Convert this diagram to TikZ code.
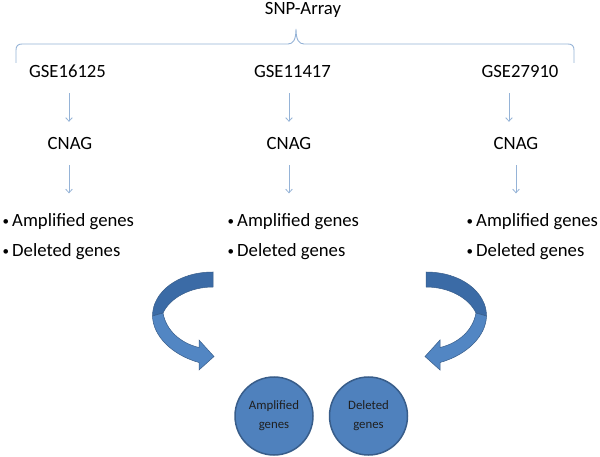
\documentclass[tikz,border=0pt]{standalone}
\usepackage{fontspec}
\setmainfont{Carlito}
\usetikzlibrary{arrows.meta}
\definecolor{lineblue}{HTML}{95B3D7}
\definecolor{fillblue}{HTML}{4F81BD}
\definecolor{lightblue}{HTML}{5286C3}
\definecolor{darkblue}{HTML}{3B6BA6}
\definecolor{edgeblue}{HTML}{385D8A}
\newcommand\myblt{\makebox[10pt][l]{\hspace{0.5pt}\raisebox{1.8pt}{\fontsize{13}{13}\selectfont\textbullet}}}
\begin{document}
\begin{tikzpicture}[x=1pt,y=-1pt,
  lbl/.style={font=\fontsize{18.7}{22}\selectfont, inner sep=0pt, anchor=base, text height=12.5pt, text depth=0pt},
  lst/.style={font=\fontsize{18.7}{22}\selectfont, inner sep=0pt, anchor=base west},
  thinarrow/.style={draw=lineblue, line width=0.8pt, -{Straight Barb[length=3.5pt,width=6.5pt]}},
  bracestyle/.style={draw=lineblue, line width=0.9pt},
  blob/.style={circle, minimum size=78pt, inner sep=0pt, fill=fillblue, draw=edgeblue, line width=1.5pt, font=\fontsize{12.8}{19}\selectfont, align=center, text=black!88},
  topband/.style={fill=darkblue, draw=edgeblue, line width=0.5pt},
  lowband/.style={fill=lightblue, draw=edgeblue, line width=0.5pt}]
\useasboundingbox[fill=white] (0,0) rectangle (600,457);

% title and brace
\node[lbl] (snp) at (303,14.5) {SNP-Array};
\draw[bracestyle] (16,63) -- (16,50) .. controls (16,46) and (18,44) .. (22,44) -- (288,44)
  .. controls (293,44) and (296,40) .. (296,29) .. controls (296,40) and (299,44) .. (304,44)
  -- (568,44) .. controls (572,44) and (574,46) .. (574,50) -- (574,63);

% datasets
\node[lbl] (g1) at (67.5,77.5) {GSE16125};
\node[lbl] (g2) at (292.5,77.5) {GSE11417};
\node[lbl] (g3) at (520,77.5) {GSE27910};

\node[lbl] (c1) at (70,150) {CNAG};
\node[lbl] (c2) at (289,150) {CNAG};
\node[lbl] (c3) at (516,150) {CNAG};

\node[lst] (l1a) at (2,227) {\myblt Amplified genes};
\node[lst] (l1b) at (2,257) {\myblt Deleted genes};
\node[lst] (l2a) at (227,227) {\myblt Amplified genes};
\node[lst] (l2b) at (227,257) {\myblt Deleted genes};
\node[lst] (l3a) at (466,227) {\myblt Amplified genes};
\node[lst] (l3b) at (466,257) {\myblt Deleted genes};

% vertical arrows
\draw[thinarrow, shorten <=15.5pt, shorten >=15.5pt] ([xshift=1.5pt]g1.south) -- ([xshift=-1pt]c1.north);
\draw[thinarrow, shorten <=15.5pt, shorten >=15.5pt] ([xshift=-3.5pt]g2.south) -- (c2.north);
\draw[thinarrow, shorten <=15.5pt, shorten >=15.5pt] ([xshift=-11pt]g3.south) -- ([xshift=-7pt]c3.north);

\draw[thinarrow, shorten <=15pt, shorten >=20.5pt] ([xshift=-1pt]c1.south) -- ([xshift=-1pt]c1.south |- l1a.north);
\draw[thinarrow, shorten <=15pt, shorten >=20.5pt] (c2.south) -- (c2.south |- l2a.north);
\draw[thinarrow, shorten <=15pt, shorten >=20.5pt] (c3.south) -- (c3.south |- l3a.north);

% result circles
\node[blob] (amp) at (274,416) {Amplified\\genes};
\node[blob] (del) at (368.5,416) {Deleted\\genes};

% curved arrows
\foreach \mx/\sx in {0/1, 639/-1}{
\begin{scope}[xshift=\mx pt, xscale=\sx]
  \path[topband] (213,272) .. controls (178,272) and (152.5,292) .. (152.5,316)
     -- (163,313) .. controls (170,298) and (190,287) .. (213,287) -- cycle;
  \path[lowband] (152.5,316) .. controls (153,336) and (172,355) .. (199,362.5)
     -- (199,370) -- (214,356.5) -- (199,340) -- (199,347.5)
     .. controls (180,343) and (166,330) .. (163,313) -- cycle;
\end{scope}}
\end{tikzpicture}
\end{document}
